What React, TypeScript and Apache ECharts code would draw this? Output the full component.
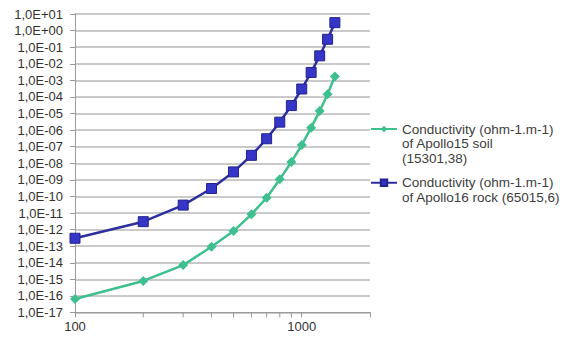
import React, { useEffect, useRef } from "react";
import * as echarts from "echarts";

const temperatures = [100, 200, 300, 400, 500, 600, 700, 800, 900, 1000, 1100, 1200, 1300, 1400];
const soilConductivity = [
  6.5e-17, 8e-16, 7.2e-15, 9.3e-14, 8.1e-13, 8.3e-12, 8.3e-11, 1.07e-9, 1.2e-8, 1.26e-7, 1.4e-6, 1.4e-5,
  1.45e-4, 1.7e-3,
];
const rockConductivity = [
  3e-13, 3e-12, 3e-11, 3e-10, 3e-9, 3e-8, 3e-7, 3e-6, 3e-5, 3e-4, 3e-3, 3e-2, 3e-1, 3,
];
const xMinorTicks = [200, 300, 400, 500, 600, 700, 800, 900];
const xMin = 100;
const xMax = 2000;
const yMin = 1e-17;
const yMax = 10;

const soilName = "Conductivity (ohm-1.m-1) of Apollo15 soil (15301,38)";
const rockName = "Conductivity (ohm-1.m-1) of Apollo16 rock (65015,6)";
const legendLines: Record<string, string> = {
  [soilName]: "\n\nConductivity (ohm-1.m-1)\nof Apollo15 soil\n(15301,38)",
  [rockName]: "\nConductivity (ohm-1.m-1)\nof Apollo16 rock (65015,6)",
};

const FONT = "'Liberation Sans', Arial, sans-serif";
const GREEN = "#3DBF8E";
const BLUE_LINE = "#2E2E9E";
const BLUE_FILL = "#3535C8";

export default function App() {
  const ref = useRef<HTMLDivElement>(null);
  useEffect(() => {
    if (!ref.current) return;
    const chart = echarts.init(ref.current, undefined, { renderer: "svg" });
    const legendText = {
      fontFamily: FONT,
      fontSize: 13.5,
      color: "#404040",
      lineHeight: 14.5,
    };
    chart.setOption({
      animation: false,
      backgroundColor: "#ffffff",
      grid: { left: 75, right: 199, top: 14, bottom: 24.5 },
      legend: [
        {
          data: [soilName],
          orient: "vertical",
          left: 370,
          top: 92.75,
          padding: 0,
          itemWidth: 26,
          itemHeight: 8,
          itemGap: 5,
          formatter: (n: string) => legendLines[n],
          textStyle: { ...legendText },
        },
        {
          data: [rockName],
          orient: "vertical",
          left: 370,
          top: 161,
          padding: 0,
          itemWidth: 26,
          itemHeight: 8,
          itemGap: 5,
          formatter: (n: string) => legendLines[n],
          textStyle: { ...legendText },
        },
      ],
      xAxis: {
        type: "log",
        logBase: 10,
        min: xMin,
        max: xMax,
        axisLine: { lineStyle: { color: "#9A9A9A", width: 1 } },
        axisTick: { show: true, inside: false, length: 5, lineStyle: { color: "#9A9A9A" } },
        splitLine: { show: false },
        axisLabel: {
          fontFamily: FONT,
          fontSize: 13,
          color: "#333333",
          margin: 7,
          formatter: (v: number) => {
            const e = Math.log10(v);
            return Math.abs(e - Math.round(e)) < 1e-6 ? String(Math.round(v)) : "";
          },
        },
      },
      yAxis: {
        type: "log",
        logBase: 10,
        min: yMin,
        max: yMax,
        interval: 1,
        splitNumber: 18,
        axisLine: { show: true, lineStyle: { color: "#9A9A9A", width: 1 } },
        axisTick: { show: true, inside: false, length: 5, lineStyle: { color: "#9A9A9A" } },
        splitLine: { show: true, lineStyle: { color: "#B8B8B8", width: 1.5 } },
        axisLabel: {
          fontFamily: FONT,
          fontSize: 13,
          color: "#333333",
          margin: 12,
          formatter: (v: number) => {
            const e = Math.round(Math.log10(v));
            const s = e < 0 ? "-" : "+";
            return "1,0E" + s + String(Math.abs(e)).padStart(2, "0");
          },
        },
      },
      series: [
        {
          name: soilName,
          type: "line",
          data: temperatures.map((t, i) => [t, soilConductivity[i]]),
          symbol: "diamond",
          symbolSize: 10,
          lineStyle: { color: GREEN, width: 2.5 },
          itemStyle: { color: GREEN },
          z: 3,
        },
        {
          name: rockName,
          type: "line",
          data: temperatures.map((t, i) => [t, rockConductivity[i]]),
          symbol: "rect",
          symbolSize: 10,
          lineStyle: { color: BLUE_LINE, width: 2.5 },
          itemStyle: { color: BLUE_FILL, borderColor: "#23238A", borderWidth: 1 },
          z: 3,
        },
        {
          type: "custom",
          silent: true,
          clip: false,
          data: xMinorTicks.map((x) => [x, yMin]),
          renderItem: (_p: any, api: any) => {
            const pt = api.coord([api.value(0), api.value(1)]);
            return {
              type: "line",
              shape: { x1: pt[0], y1: pt[1], x2: pt[0], y2: pt[1] + 5 },
              style: { stroke: "#9A9A9A", lineWidth: 1 },
            };
          },
          z: 1,
        },
      ],
    });
    return () => chart.dispose();
  }, []);
  return (
    <div
      ref={ref}
      style={{ position: "fixed", left: 0, top: 0, width: 569, height: 337, background: "#fff" }}
    />
  );
}
